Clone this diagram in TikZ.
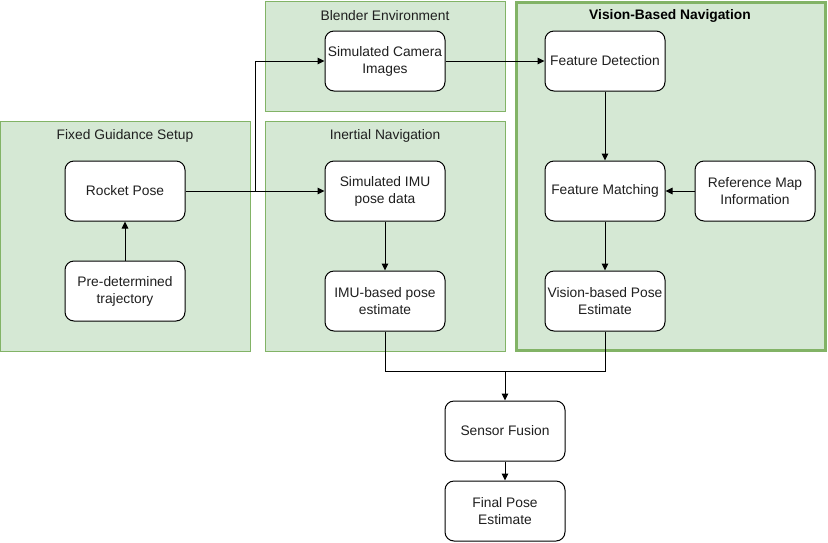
\documentclass[tikz,border=0pt]{standalone}
\usepackage{fontspec}
\setmainfont{Liberation Sans}
\usetikzlibrary{arrows.meta}
\definecolor{grpfill}{HTML}{D5E8D4}
\definecolor{grpline}{HTML}{82B366}
\definecolor{ttl}{HTML}{1F1F1F}
\tikzset{
  grp/.style={draw=grpline, fill=grpfill, line width=1pt},
  proc/.style={draw=black, fill=white, line width=1pt, rounded corners=9pt,
    minimum width=120pt, minimum height=60pt, inner sep=0pt, align=center,
    font=\fontsize{13.8pt}{17pt}\selectfont, text=ttl},
  gtitle/.style={font=\fontsize{13.8pt}{17pt}\selectfont, text=ttl, anchor=center},
  conn/.style={draw=black, line width=1pt, -{Triangle[length=7pt,width=6.5pt]}},
}
\begin{document}
\begin{tikzpicture}[x=1pt,y=-1pt]
\useasboundingbox (0,0) rectangle (828,542);
% containers
\draw[grp] (0.5,121.5) rectangle (250,351);
\draw[grp] (265.5,1.5) rectangle (505,111);
\draw[grp] (265.5,121.5) rectangle (505,351);
\draw[grp, line width=3pt] (516,2.5) rectangle (825.5,350.5);
\node[gtitle] (tfg) at (125,136) {Fixed Guidance Setup};
\node[gtitle] (tbe) at (385,16) {Blender Environment};
\node[gtitle] (tin) at (385,136) {Inertial Navigation};
\node[gtitle, font=\fontsize{13.8pt}{17pt}\selectfont\bfseries, text=black] (tvb) at (670,16) {Vision-Based Navigation};
% nodes
\node[proc] (rp) at (125,191) {Rocket Pose};
\node[proc] (tr) at (125,291) {Pre-determined\\trajectory};
\node[proc] (cam) at (385,61) {Simulated Camera\\Images};
\node[proc] (imu) at (385,191) {Simulated IMU\\pose data};
\node[proc] (imue) at (385,301) {IMU-based pose\\estimate};
\node[proc] (fd) at (605,61) {Feature Detection};
\node[proc] (fm) at (605,191) {Feature Matching};
\node[proc] (rm) at (755,191) {Reference Map\\Information};
\node[proc] (vp) at (605,301) {Vision-based Pose\\Estimate};
\node[proc] (sf) at (505,431) {Sensor Fusion};
\node[proc] (fp) at (505,511) {Final Pose\\Estimate};
% connectors
\coordinate (br) at (255,191);
\coordinate (mj) at (505,371);
\draw[conn] (tr) -- (rp);
\draw[conn] (rp) -- (imu);
\draw[conn] (br) |- (cam);
\draw[conn] (cam) -- (fd);
\draw[conn] (fd) -- (fm);
\draw[conn] (rm) -- (fm);
\draw[conn] (fm) -- (vp);
\draw[conn] (imu) -- (imue);
\draw[line width=1pt] (imue.south) |- (mj);
\draw[line width=1pt] (vp.south) |- (mj);
\draw[conn] (mj) -- (sf);
\draw[conn] (sf) -- (fp);
\end{tikzpicture}
\end{document}
